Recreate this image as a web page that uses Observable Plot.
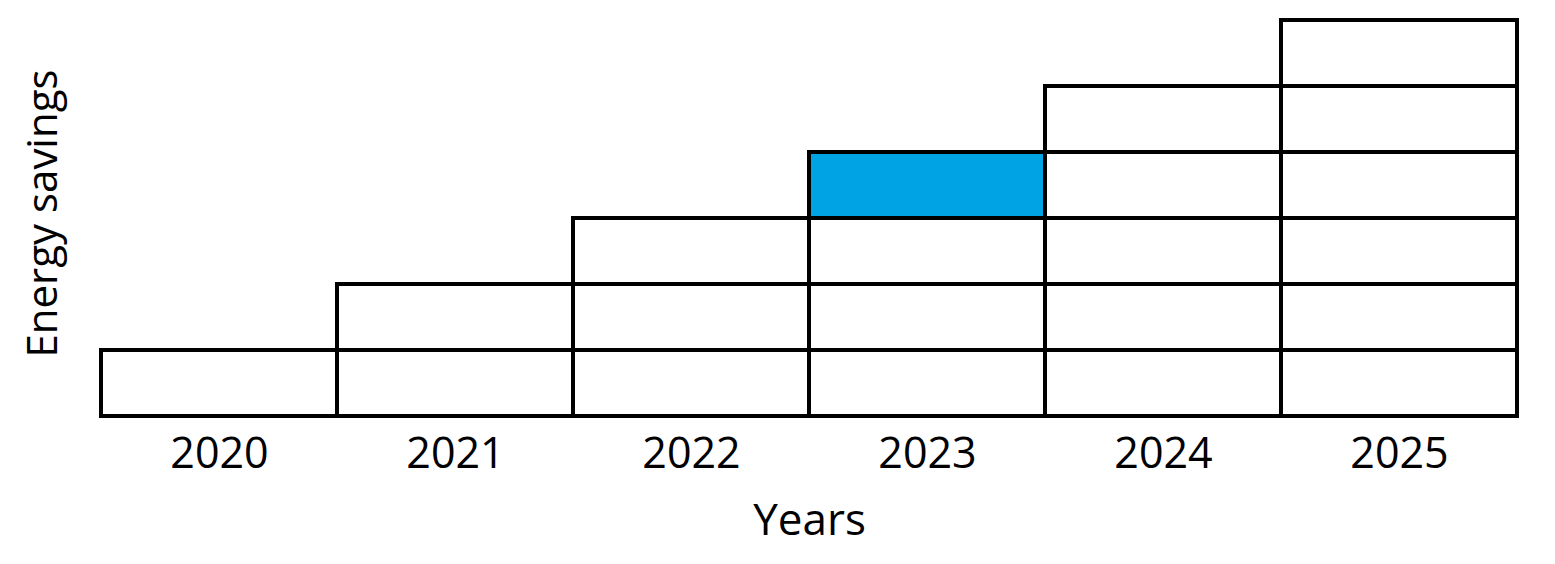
<!DOCTYPE html>
<html>
<head>
<meta charset="utf-8">
<script src="https://cdn.jsdelivr.net/npm/d3@7"></script>
<script src="https://cdn.jsdelivr.net/npm/@observablehq/plot@0.6"></script>
<style>
  html, body { margin: 0; padding: 0; background: #fff; }
</style>
</head>
<body>
<div id="chart"></div>
<script>
const years = ["2020", "2021", "2022", "2023", "2024", "2025"];
const stackHeights = [1, 2, 3, 4, 5, 6];
const levels = [1, 2, 3, 4, 5, 6];
const highlightYear = "2023";
const highlightLevel = 4;
const xTitle = "Years";
const yTitle = "Energy savings";

const cells = [];
years.forEach((yr, i) => {
  for (let l = 1; l <= stackHeights[i]; l++) {
    cells.push({year: yr, level: l, hi: yr === highlightYear && l === highlightLevel});
  }
});

const chart = Plot.plot({
  width: 1555,
  height: 564,
  marginLeft: 99,
  marginRight: 36,
  marginTop: 18,
  marginBottom: 146,
  style: {fontFamily: "'Open Sans', sans-serif", color: "#000", background: "#fff"},
  x: {type: "band", domain: years, padding: 0},
  y: {type: "band", domain: levels.slice().reverse(), padding: 0, axis: null},
  marks: [
    Plot.cell(cells, {
      x: "year", y: "level",
      fill: d => d.hi ? "#00a3e4" : "#ffffff",
      stroke: "#000", strokeWidth: 4, inset: 0
    }),
    Plot.axisX({tickSize: 0, tickPadding: 19, fontSize: 43, label: null}),
    Plot.text([xTitle], {frameAnchor: "bottom", dy: 116, fontSize: 44, fill: "#000"}),
    Plot.text([yTitle], {frameAnchor: "left", textAnchor: "middle", rotate: -90, dx: -56, dy: -5, fontSize: 42, fill: "#000"})
  ]
});
document.getElementById("chart").appendChild(chart);
</script>
</body>
</html>
